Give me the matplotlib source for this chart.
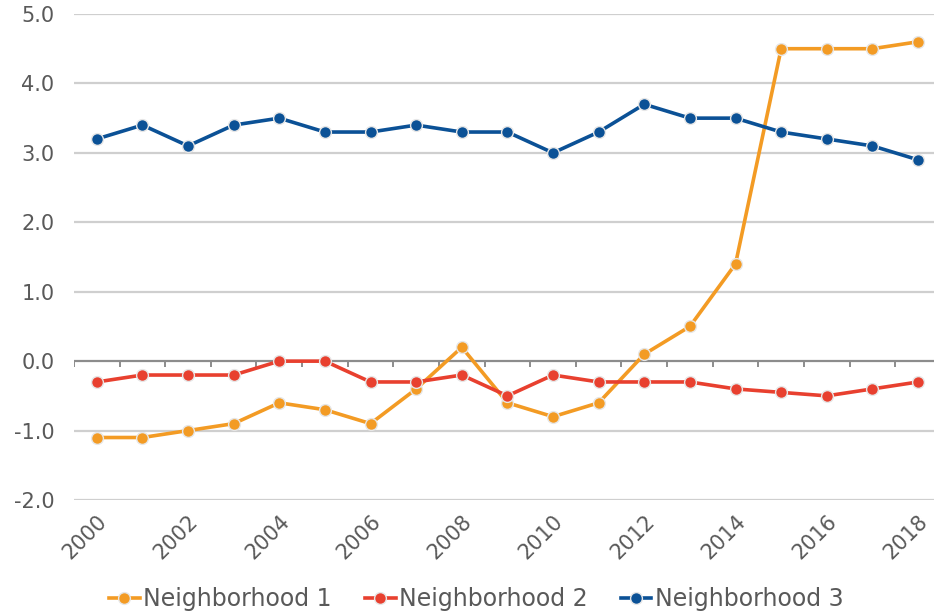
import numpy as np
import matplotlib
matplotlib.use("Agg")
import matplotlib.pyplot as plt

years = list(range(2000, 2019))
hood1 = [-1.1, -1.1, -1.0, -0.9, -0.6, -0.7, -0.9, -0.4, 0.2, -0.6,
         -0.8, -0.6, 0.1, 0.5, 1.4, 4.5, 4.5, 4.5, 4.6]
hood2 = [-0.3, -0.2, -0.2, -0.2, 0.0, 0.0, -0.3, -0.3, -0.2, -0.5,
         -0.2, -0.3, -0.3, -0.3, -0.4, -0.45, -0.5, -0.4, -0.3]
hood3 = [3.2, 3.4, 3.1, 3.4, 3.5, 3.3, 3.3, 3.4, 3.3, 3.3,
         3.0, 3.3, 3.7, 3.5, 3.5, 3.3, 3.2, 3.1, 2.9]
names = ["Neighborhood 1", "Neighborhood 2", "Neighborhood 3"]
colors = ["#F39B24", "#E8402F", "#0B5196"]
yticks = [-2.0, -1.0, 0.0, 1.0, 2.0, 3.0, 4.0, 5.0]

plt.rcParams['font.family'] = ['DejaVu Sans']
txt = "#595959"

fig = plt.figure(figsize=(9.34, 6.14), dpi=100)
ax = fig.add_axes([74 / 934, 114 / 614, (934 - 74) / 934, 486 / 614])

# gridlines
for v in yticks:
    if v == 0:
        ax.axhline(v, color="#8c8c8c", lw=1.6, zorder=1)
    else:
        ax.axhline(v, color="#cfcfcf", lw=1.6, zorder=1)
# tick marks on the zero line between categories
bounds = np.arange(years[0] - 0.5, years[-1] + 1, 1.0)
ax.vlines(bounds, -0.08, 0, color="#8c8c8c", lw=1.4, zorder=1)

for vals, name, c in zip([hood1, hood2, hood3], names, colors):
    ax.plot(years, vals, color=c, lw=2.6, marker="o", ms=8.5,
            mfc=c, mec="#e6e6e6", mew=1.0, label=name, zorder=3,
            clip_on=False)

ax.set_xlim(years[0] - 0.5, years[0] + 18.35)
ax.set_ylim(-2, 5)
ax.set_yticks(yticks)
ax.set_yticklabels([f"{v:.1f}" for v in yticks], fontsize=15, color=txt)
ax.set_xticks(years[::2])
ax.set_xticklabels([str(y) for y in years[::2]], rotation=45, ha="right",
                   rotation_mode="anchor", fontsize=15, color=txt)
ax.tick_params(axis="both", length=0)
ax.tick_params(axis="y", pad=14)
ax.tick_params(axis="x", pad=8)
for s in ax.spines.values():
    s.set_visible(False)

leg = fig.legend(loc="lower center", ncol=3, frameon=False, fontsize=17,
                 bbox_to_anchor=(0.51, -0.03), handlelength=1.3,
                 handletextpad=0.15, columnspacing=1.4, labelcolor=txt)

fig.savefig("out.png", dpi=100)
